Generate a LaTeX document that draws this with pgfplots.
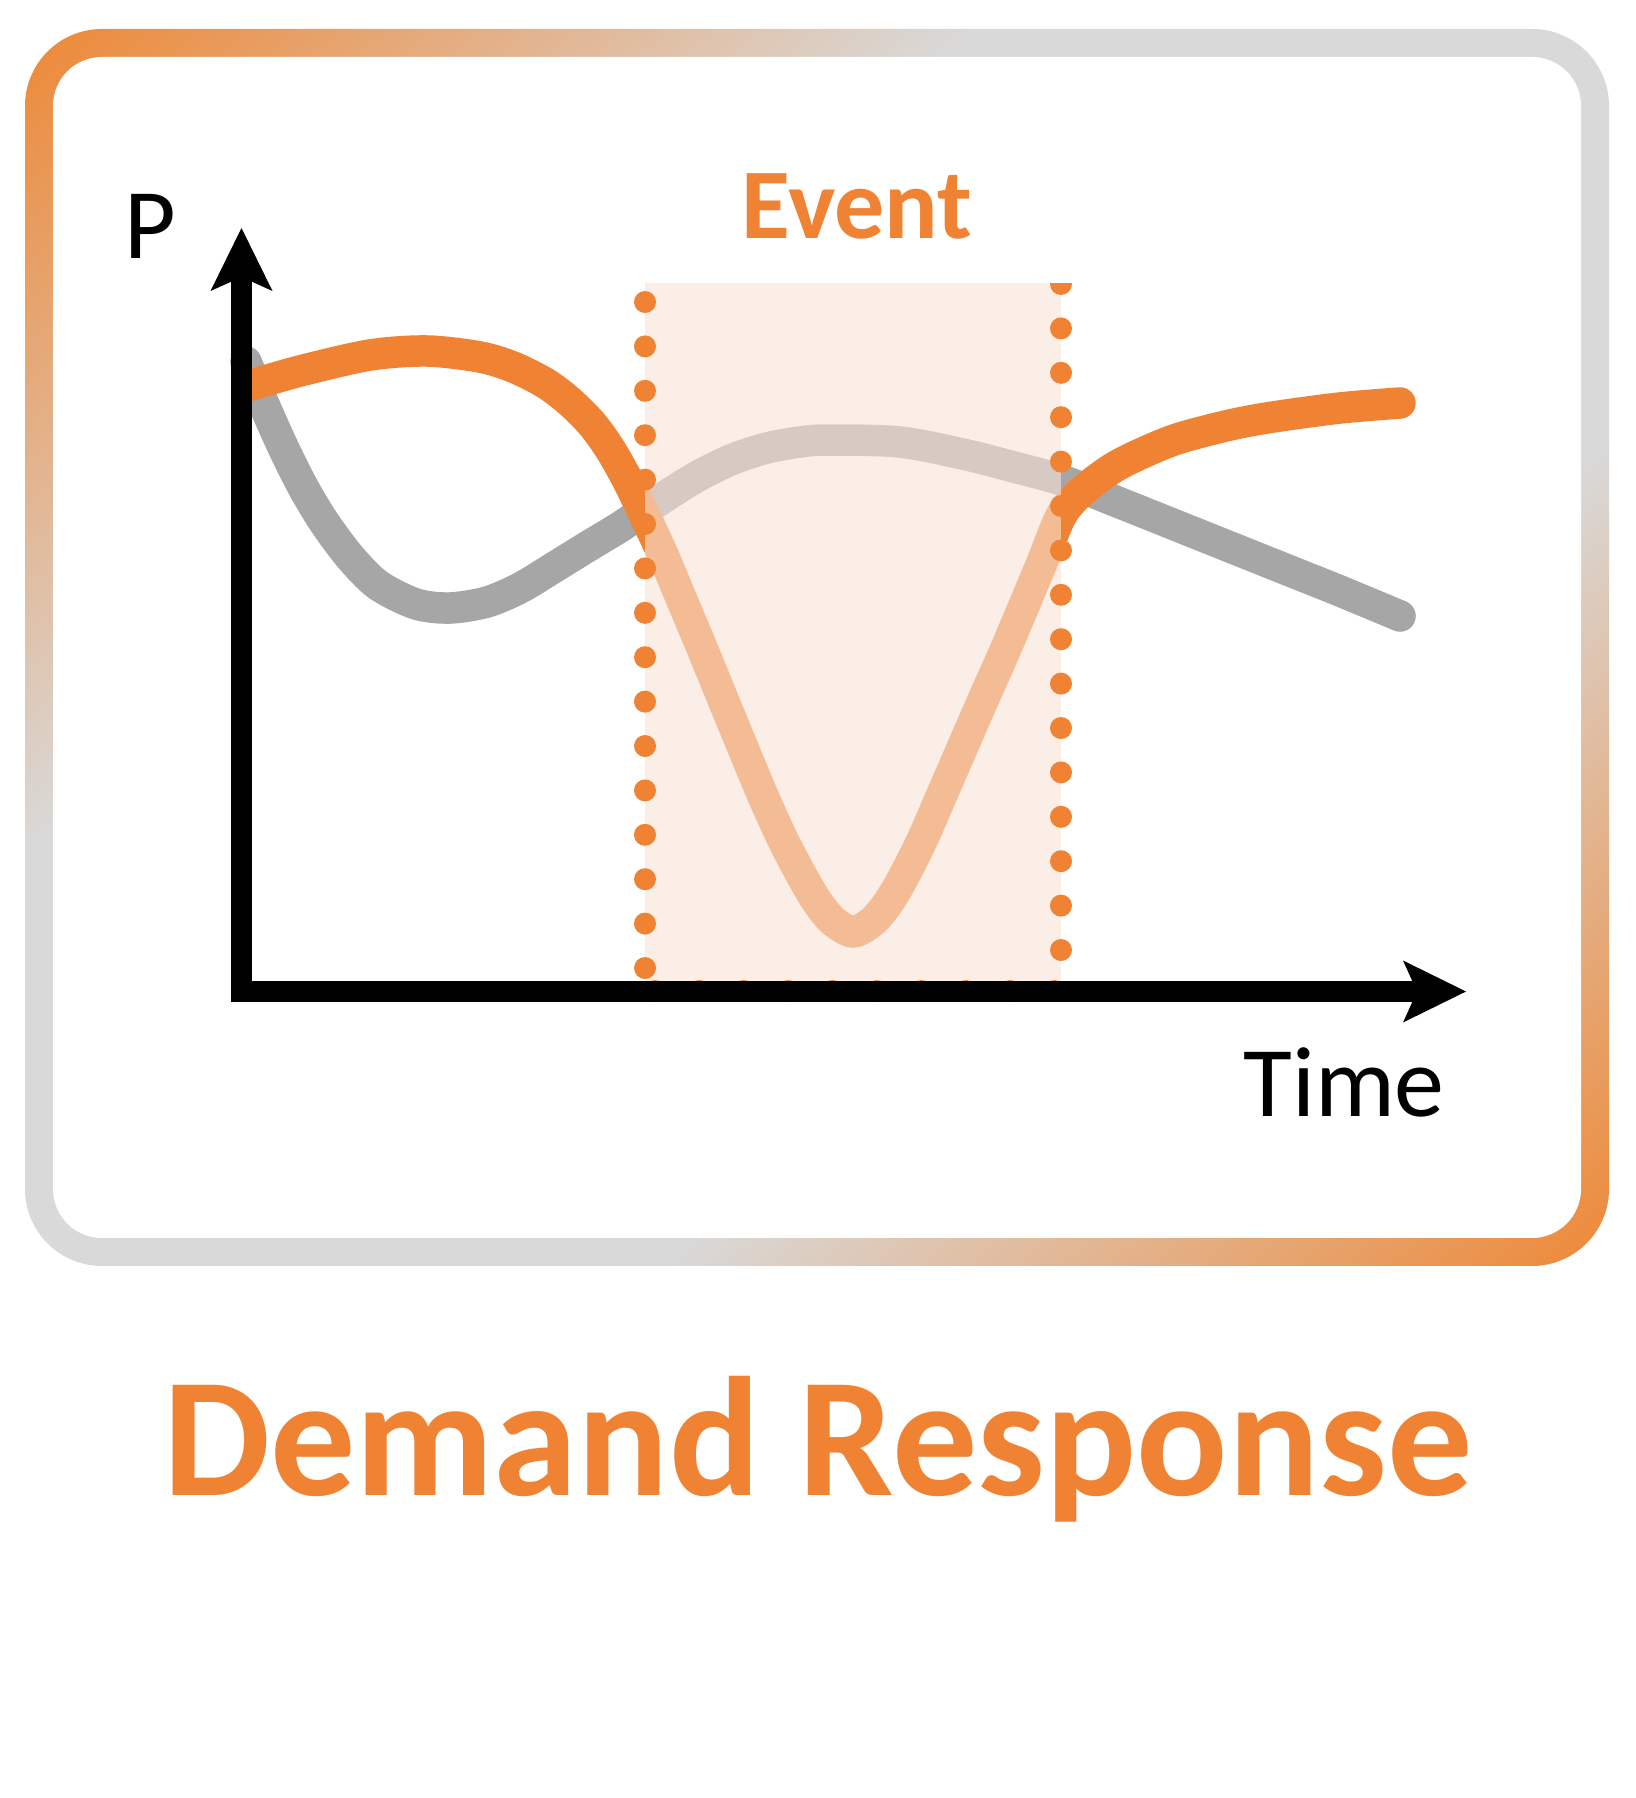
\documentclass[border=0pt]{standalone}
\usepackage{fontspec}
\setmainfont{Carlito}
\usepackage{pgfplots}
\pgfplotsset{compat=1.18}
\usetikzlibrary{arrows.meta}
\definecolor{dro}{RGB}{239,131,51}
\definecolor{drg}{RGB}{166,166,166}
\definecolor{ovl}{RGB}{248,227,214}
\definecolor{bo}{RGB}{237,137,56}
\definecolor{bg}{RGB}{217,217,217}
\pgfdeclarehorizontalshading{ringshade}{100bp}{color(0bp)=(bo); color(15bp)=(bo); color(37bp)=(bg); color(63bp)=(bg); color(85bp)=(bo); color(100bp)=(bo)}
\begin{document}
\begin{tikzpicture}
% rounded gradient frame (pixel units, origin top-left)
\begin{scope}[x=0.5pt,y=-0.5pt,shift={(0pt,899pt)}]
\shade[shading=ringshade, shading angle=-49, rounded corners=38.5pt] (25,29) rectangle (1609,1266);
\fill[white, rounded corners=24.5pt] (53,57) rectangle (1581,1238);
\end{scope}
\begin{axis}[at={(0,0)}, anchor=south west, width=818pt, height=899pt, scale only axis,
  xmin=0, xmax=1636, ymin=0, ymax=1798, y dir=reverse, hide axis, clip=false]
% baseline load (grey)
\addplot[drg, line width=15.75pt, line cap=round, smooth, no markers] coordinates {
 (246,362) (262,400) (283,447) (303,487) (324,522) (350,557) (378,585) (416,604)
 (450,608) (487,602) (520,588) (553,568) (587,547) (620,527) (645,510) (672,492)
 (700,475) (733,459) (767,448) (800,442) (827,440) (900,442) (967,455) (1010,466)
 (1061,480) (1120,503) (1180,527) (1240,551) (1300,575) (1340,591) (1400,616)};
% demand response load (orange)
\addplot[dro, line width=15.75pt, line cap=round, smooth, no markers] coordinates {
 (248,386) (300,371) (370,355) (427,351) (480,357) (513,367) (545,383) (569,401)
 (592,424) (610,449) (627,479) (645,516) (663,555) (681,598) (702,648) (722,697)
 (743,748) (763,796) (783,840) (803,878) (818,903) (833,921) (853,932) (873,921)
 (888,903) (903,878) (923,838) (943,792) (963,746) (983,700) (1003,655) (1023,608)
 (1043,560) (1061,516) (1080,493) (1113,468) (1147,451) (1180,438) (1230,425)
 (1273,417) (1340,408) (1400,403)};
% event window overlay
\addplot[draw=none, fill=ovl, fill opacity=0.6] coordinates {(645,283) (1061,283) (1061,990) (645,990)} -- cycle;
\addplot[dro, line width=11pt, line cap=round, dash pattern=on 0pt off 22.2pt, no markers] coordinates {(645,302) (645,990)};
\addplot[dro, line width=11pt, line cap=round, dash pattern=on 0pt off 22.2pt, no markers] coordinates {(1061,284) (1061,990)};
\addplot[dro, line width=11pt, line cap=round, dash pattern=on 0pt off 22.2pt, no markers] coordinates {(655,991) (1060,991)};
\fill[white] (1040,255) rectangle (1082,283);
% axes
\draw[black, line width=10.5pt, -{Stealth[length=31.5pt, width=31pt, inset=7pt, line width=0pt]}] (241.5,1002) -- (241.5,228);
\draw[black, line width=10.5pt, -{Stealth[length=31.5pt, width=31pt, inset=7pt, line width=0pt]}] (231,991.5) -- (1466,991.5);
% texts
\node[anchor=base west, inner sep=0pt, font=\fontsize{50}{60}\selectfont] at (124,258) {P};
\node[anchor=base west, inner sep=0pt, font=\fontsize{50}{60}\selectfont] at (1243,1116) {Time};
\node[anchor=base, inner sep=0pt, text=dro, font=\fontsize{50}{60}\selectfont\bfseries] at (857,239) {Event};
\node[anchor=base, inner sep=0pt, text=dro, font=\fontsize{85}{100}\selectfont\bfseries] at (818,1495) {Demand Response};
\end{axis}
\pgfresetboundingbox
\path[use as bounding box] (0,0) rectangle (818pt,899pt);
\end{tikzpicture}
\end{document}
